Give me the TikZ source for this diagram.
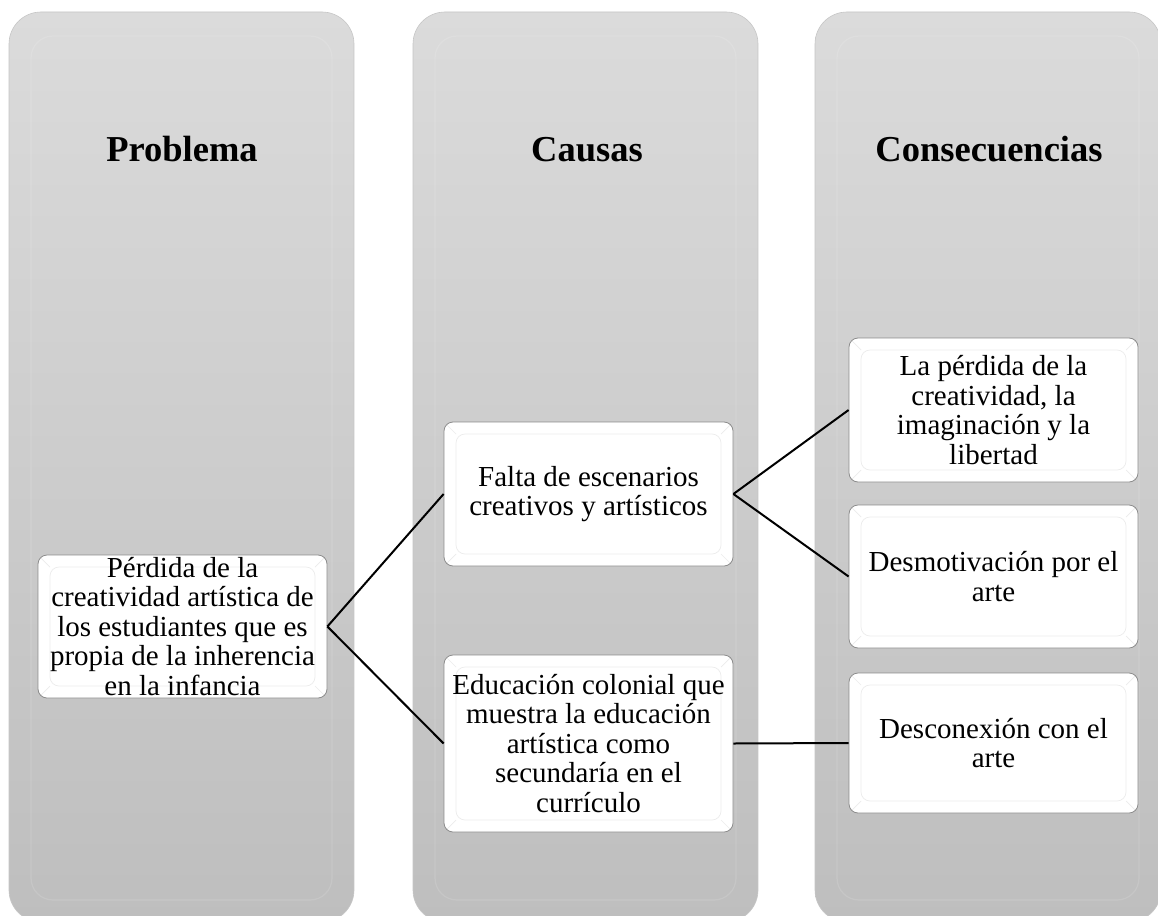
\documentclass[tikz,border=0pt]{standalone}
\usepackage{fontspec}
\setmainfont{Liberation Serif}
\definecolor{colTop}{RGB}{219,219,219}
\definecolor{colBot}{RGB}{190,190,190}
\definecolor{colEdge}{RGB}{198,198,198}
\definecolor{boxEdge}{RGB}{140,140,140}
\definecolor{bevelC}{RGB}{236,236,236}
\begin{document}
\begin{tikzpicture}[x=1pt,y=-1pt,
  col/.style={rounded corners=32pt, top color=colTop, bottom color=colBot, draw=colEdge, line width=0.6pt},
  rim/.style={rounded corners=22pt, draw=white, draw opacity=0.12, line width=1.2pt},
  head/.style={font=\fontsize{36.5}{40}\selectfont\bfseries, anchor=base, inner sep=0pt},
  bevel/.style={draw=bevelC, line width=0.7pt},
  box/.style={rounded corners=9pt, fill=white, draw=boxEdge, line width=0.8pt,
    minimum width=289pt, inner sep=1pt, align=center,
    font=\fontsize{29}{29.5}\selectfont,
    path picture={
      \draw[bevel] ([xshift=12pt,yshift=-12pt]path picture bounding box.north west) rectangle ([xshift=-12pt,yshift=12pt]path picture bounding box.south east);
      \draw[bevel] (path picture bounding box.north west) -- ++(12pt,-12pt);
      \draw[bevel] (path picture bounding box.north east) -- ++(-12pt,-12pt);
      \draw[bevel] (path picture bounding box.south west) -- ++(12pt,12pt);
      \draw[bevel] (path picture bounding box.south east) -- ++(-12pt,12pt);
    }},
  link/.style={line width=2pt, draw=black}]
\useasboundingbox (0,0) rectangle (1158,915);
\fill[white] (0,0) rectangle (1158,915);

% columns
\path[col] (9,12) rectangle (354,922);
\path[col] (413,12) rectangle (758,922);
\path[col] (815,12) rectangle (1161,922);
\path[rim] (31,36) rectangle (332,900);
\path[rim] (435,36) rectangle (736,900);
\path[rim] (837,36) rectangle (1139,900);

% headings
\node[head] (h1) at (182,161) {Problema};
\node[head] (h2) at (587,161) {Causas};
\node[head] (h3) at (989,161) {Consecuencias};

% boxes
\node[box, minimum height=143pt] (P) at (182.5,626.5)
  {Pérdida de la\\creatividad artística de\\los estudiantes que es\\propia de la inherencia\\en la infancia};
\node[box, minimum height=144pt] (C1) at (588.5,494)
  {Falta de escenarios\\creativos y artísticos};
\node[box, minimum height=177pt] (C2) at (588.5,743.5)
  {Educación colonial que\\muestra la educación\\artística como\\secundaría en el\\currículo};
\node[box, minimum height=144pt] (K1) at (993.5,410)
  {La pérdida de la\\creatividad, la\\imaginación y la\\libertad};
\node[box, minimum height=143pt] (K2) at (993.5,576.5)
  {Desmotivación por el\\arte};
\node[box, minimum height=140pt] (K3) at (993.5,743)
  {Desconexión con el\\arte};

% connectors
\draw[link] (P.east) -- (C1.west);
\draw[link] (P.east) -- (C2.west);
\draw[link] (C1.east) -- (K1.west);
\draw[link] (C1.east) -- (K2.west);
\draw[link] (C2.east) -- (K3.west);
\end{tikzpicture}
\end{document}
